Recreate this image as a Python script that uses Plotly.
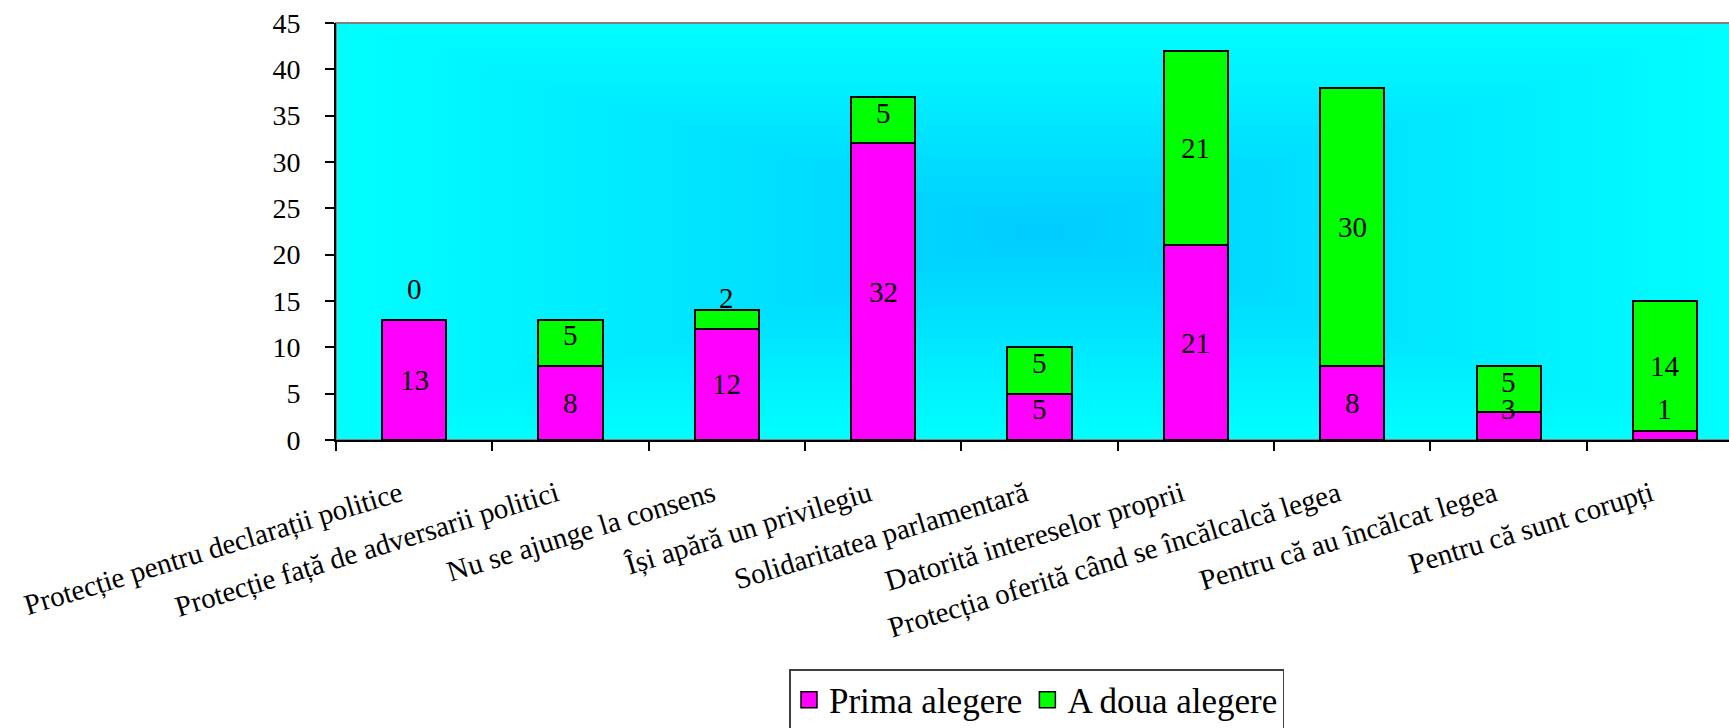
import base64
import plotly.graph_objects as go

# Motive pentru imunitatea parlamentară – numărul de răspunsuri pe categorii
categories = [
    "Protecție pentru declarații politice",
    "Protecție față de adversarii politici",
    "Nu se ajunge la consens",
    "Își apără un privilegiu",
    "Solidaritatea parlamentară",
    "Datorită intereselor proprii",
    "Protecția oferită când se încălcalcă legea",
    "Pentru că au încălcat legea",
    "Pentru că sunt corupți",
]
prima_alegere = [13, 8, 12, 32, 5, 21, 8, 3, 1]
a_doua_alegere = [0, 5, 2, 5, 5, 21, 30, 5, 14]
series_names = ["Prima alegere", "A doua alegere"]
series_colors = ["#FF00FF", "#00FF00"]

y_ticks = list(range(0, 46, 5))

FONT = "Liberation Serif"
W, H = 1729, 728
M_L, M_R, M_T, M_B = 336, 0, 23, 288

# Rectangular "from centre" gradient for the plot background, built as four
# triangles each filled (and stroked, to hide seams) with a linear gradient.
edge_col, centre_col = "#00FFFF", "#00CCFF"
gw, gh = 1407, 417
cx, cy = gw / 2, gh / 2
svg = f"""<svg xmlns='http://www.w3.org/2000/svg' width='{gw}' height='{gh}' viewBox='0 0 {gw} {gh}' preserveAspectRatio='none'>
<defs>
<linearGradient id='t' gradientUnits='userSpaceOnUse' x1='0' y1='0' x2='0' y2='{cy}'><stop offset='0' stop-color='{edge_col}'/><stop offset='1' stop-color='{centre_col}'/></linearGradient>
<linearGradient id='b' gradientUnits='userSpaceOnUse' x1='0' y1='{gh}' x2='0' y2='{cy}'><stop offset='0' stop-color='{edge_col}'/><stop offset='1' stop-color='{centre_col}'/></linearGradient>
<linearGradient id='l' gradientUnits='userSpaceOnUse' x1='0' y1='0' x2='{cx}' y2='0'><stop offset='0' stop-color='{edge_col}'/><stop offset='1' stop-color='{centre_col}'/></linearGradient>
<linearGradient id='r' gradientUnits='userSpaceOnUse' x1='{gw}' y1='0' x2='{cx}' y2='0'><stop offset='0' stop-color='{edge_col}'/><stop offset='1' stop-color='{centre_col}'/></linearGradient>
</defs>
<rect x='0' y='0' width='{gw}' height='{gh}' fill='{centre_col}'/>
<polygon points='0,0 0,{gh} {cx},{cy}' fill='url(#l)' stroke='url(#l)' stroke-width='2'/>
<polygon points='{gw},0 {gw},{gh} {cx},{cy}' fill='url(#r)' stroke='url(#r)' stroke-width='2'/>
<polygon points='0,0 {gw},0 {cx},{cy}' fill='url(#t)' stroke='url(#t)' stroke-width='2'/>
<polygon points='0,{gh} {gw},{gh} {cx},{cy}' fill='url(#b)' stroke='url(#b)' stroke-width='2'/>
</svg>"""
bg_src = "data:image/svg+xml;base64," + base64.b64encode(svg.encode("utf-8")).decode("ascii")

fig = go.Figure()

for name, vals, col in zip(series_names, [prima_alegere, a_doua_alegere], series_colors):
    fig.add_trace(go.Bar(
        x=categories, y=vals, name=name,
        marker=dict(color=col, line=dict(color="black", width=2)),
        showlegend=False, legendgroup=name,
    ))
    # larger square swatch for the legend
    fig.add_trace(go.Scatter(
        x=[None], y=[None], mode="markers", name=name, legendgroup=name,
        marker=dict(symbol="square", size=16, color=col, line=dict(color="black", width=1.5)),
    ))

# Value labels centred in each segment, kept clear of the segment's base
LABEL_MIN_OFFSET = 3.3
annotations = []
for i, cat in enumerate(categories):
    base = 0
    for vals in (prima_alegere, a_doua_alegere):
        v = vals[i]
        y = max(base + v / 2, base + LABEL_MIN_OFFSET)
        annotations.append(dict(
            x=cat, y=y, xref="x", yref="y", text=str(v), showarrow=False,
            font=dict(family=FONT, size=29, color="black"),
        ))
        base += v

plot_w = W - M_L - M_R
fig.update_layout(
    width=W, height=H,
    margin=dict(l=M_L, r=M_R, t=M_T, b=M_B, autoexpand=False),
    barmode="stack", bargap=0.59,
    paper_bgcolor="white", plot_bgcolor="rgba(0,0,0,0)",
    font=dict(family=FONT, color="black", size=28),
    annotations=annotations,
    images=[dict(
        source=bg_src, xref="paper", yref="paper", x=0, y=1,
        sizex=gw / plot_w, sizey=1, sizing="stretch",
        xanchor="left", yanchor="top", layer="below",
    )],
    shapes=[dict(
        type="rect", xref="paper", yref="paper", x0=0, y0=0, x1=gw / plot_w, y1=1,
        line=dict(color="#808080", width=2), layer="below",
    )],
    legend=dict(
        orientation="h", x=(789 - M_L) / plot_w, y=(H - M_B - 669) / (H - M_T - M_B),
        xanchor="left", yanchor="top",
        font=dict(family=FONT, size=35, color="black"),
        bordercolor="#404040", borderwidth=1.5, bgcolor="white",
        itemwidth=30,
    ),
    xaxis=dict(
        type="category", range=[-0.5, 8.41],
        tickson="boundaries", ticks="outside", ticklen=9, tickcolor="black", tickwidth=1.5,
        showline=True, linecolor="black", linewidth=2, showgrid=False,
        tickangle=-17, ticklabelstandoff=24, ticklabelshift=-14,
        tickfont=dict(family=FONT, size=29, color="black"),
    ),
    yaxis=dict(
        range=[0, 45], tickvals=y_ticks, ticks="outside", ticklen=9,
        tickcolor="black", tickwidth=1.5,
        showline=True, linecolor="black", linewidth=2, showgrid=False, zeroline=False,
        ticklabelstandoff=19,
        tickfont=dict(family=FONT, size=28, color="black"),
    ),
)

fig.write_html("out.html")
